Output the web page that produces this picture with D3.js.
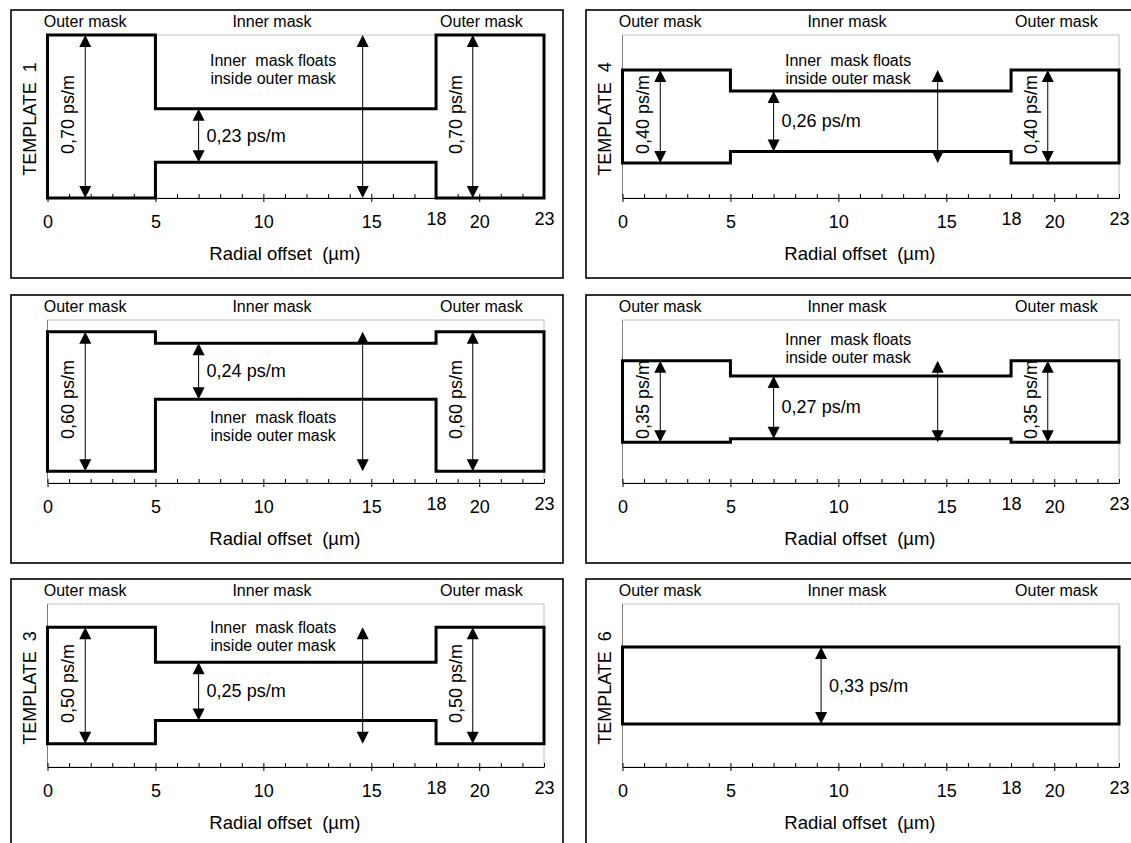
<!DOCTYPE html>
<html>
<head>
<meta charset="utf-8">
<script src="https://cdn.jsdelivr.net/npm/d3@7"></script>
<style>
  body { margin: 0; background: #fff; }
  svg { display: block; }
  text { font-family: "Liberation Sans", Arial, sans-serif; fill: #000; }
</style>
</head>
<body>
<svg id="chart"></svg>
<script>
// panels: left column rows 1-3, then right column rows 1-3
const templateLabels = ["TEMPLATE  1", "", "TEMPLATE  3", "TEMPLATE  4", "", "TEMPLATE  6"];
const outerWidth = [0.70, 0.60, 0.50, 0.40, 0.35, 0.33];
const outerLow   = [0.00, 0.05, 0.10, 0.15, 0.175, 0.185];
const innerWidth = [0.23, 0.24, 0.25, 0.26, 0.27, null];
const innerLow   = [0.153, 0.36, 0.20, 0.20, 0.19, null];
const noteY      = [0.567, 0.259, 0.575, 0.567, 0.593, null];

const maskEdges = [0, 5, 18, 23];
const zoneNames = ["Outer mask", "Inner mask", "Outer mask"];
const zoneX = [1.74, 10.4, 20.1];
const tickLabels = [0, 5, 10, 15, 18, 20, 23];
const majorTicks = [0, 5, 10, 15, 20];
const arrowOuterL = 1.75, arrowInner = 7.0, arrowFloat = 14.6, arrowOuterR = 19.7;
const arrowSingle = 9.2;
const noteLines = ["Inner  mask floats", "inside outer mask"];

const W = 1131, H = 843;
const panelW = 552, panelH = 268;
const colX = [11, 586], rowY = [10, 295, 579];

const svg = d3.select('#chart').attr('width', W).attr('height', H);
const fmt = v => d3.format('.2f')(v).replace('.', ',') + ' ps/m';

function arrow(g, px, y1, y2) {
  // y1 bottom (larger), y2 top
  g.append('line').attr('x1', px).attr('x2', px).attr('y1', y1 - 6).attr('y2', y2 + 6)
    .attr('stroke', '#000').attr('stroke-width', 1);
  g.append('path').attr('d', `M${px},${y2}L${px - 6},${y2 + 12}L${px + 6},${y2 + 12}Z`).attr('fill', '#000');
  g.append('path').attr('d', `M${px},${y1}L${px - 6},${y1 - 12}L${px + 6},${y1 - 12}Z`).attr('fill', '#000');
}

outerWidth.forEach((ow, i) => {
  const fx = colX[Math.floor(i / 3)], fy = rowY[i % 3];
  const g = svg.append('g').attr('transform', `translate(${fx},${fy})`);

  g.append('rect').attr('x', 0).attr('y', 0).attr('width', panelW).attr('height', panelH)
    .attr('fill', '#fff').attr('stroke', '#000').attr('stroke-width', 1.6);

  const x = d3.scaleLinear().domain([0, 23]).range([36.5, 533]);
  const y = d3.scaleLinear().domain([0, 0.70]).range([188, 25]);

  // plot area border
  g.append('rect').attr('x', x(0)).attr('y', y(0.70)).attr('width', x(23) - x(0)).attr('height', y(0) - y(0.70))
    .attr('fill', 'none').attr('stroke', '#c0c0c0').attr('stroke-width', 1);
  g.append('line').attr('x1', x(0)).attr('x2', x(0)).attr('y1', y(0.70)).attr('y2', y(0))
    .attr('stroke', '#808080');

  // x axis: minor ticks up, major ticks down, labels
  const axUp = g.append('g').attr('transform', `translate(0,${y(0)})`)
    .call(d3.axisTop(x).tickValues(d3.range(0, 24)).tickSizeInner(4).tickSizeOuter(0).tickFormat(''));
  axUp.select('.domain').attr('stroke', '#000');
  const axDown = g.append('g').attr('transform', `translate(0,${y(0)})`)
    .call(d3.axisBottom(x).tickValues(majorTicks).tickSize(4).tickFormat(''));
  axDown.select('.domain').remove();
  const axLab = g.append('g').attr('transform', `translate(0,${y(0)})`)
    .call(d3.axisBottom(x).tickValues(tickLabels).tickSize(0).tickPadding(17));
  axLab.select('.domain').remove();
  axLab.selectAll('text').attr('font-size', 18).attr('font-family', '"Liberation Sans", Arial, sans-serif')
    .attr('fill', '#000')
    .attr('transform', d => (d === 18 || d === 23) ? 'translate(0,-3)' : null);

  // mask outline
  const oLo = outerLow[i], oHi = outerLow[i] + ow;
  const iLo = innerLow[i] !== null ? innerLow[i] : oLo;
  const iHi = innerWidth[i] !== null ? innerLow[i] + innerWidth[i] : oHi;
  const pts = [
    [maskEdges[0], oLo], [maskEdges[0], oHi], [maskEdges[1], oHi], [maskEdges[1], iHi],
    [maskEdges[2], iHi], [maskEdges[2], oHi], [maskEdges[3], oHi], [maskEdges[3], oLo],
    [maskEdges[2], oLo], [maskEdges[2], iLo], [maskEdges[1], iLo], [maskEdges[1], oLo]
  ];
  g.append('path').attr('d', d3.line().x(d => x(d[0])).y(d => y(d[1]))(pts) + 'Z')
    .attr('fill', 'none').attr('stroke', '#000').attr('stroke-width', 3).attr('stroke-linejoin', 'miter');

  // zone labels
  g.selectAll('text.zone').data(zoneNames).join('text').attr('class', 'zone')
    .attr('x', (d, k) => x(zoneX[k])).attr('y', 17).attr('text-anchor', 'middle')
    .attr('font-size', 16).text(d => d);

  // axis title
  g.append('text').attr('x', x(11)).attr('y', 250).attr('text-anchor', 'middle')
    .attr('font-size', 18.5).style('white-space', 'pre').text('Radial offset  (µm)');

  // template label
  if (templateLabels[i]) {
    g.append('text').attr('transform', `translate(${x(0) - 18},${(y(0) + y(0.70)) / 2 + 2.5}) rotate(-90)`)
      .attr('text-anchor', 'middle').attr('dominant-baseline', 'central')
      .attr('font-size', 18).style('white-space', 'pre').text(templateLabels[i]);
  }

  if (innerWidth[i] === null) {
    arrow(g, x(arrowSingle), y(oLo), y(oHi));
    g.append('text').attr('x', x(arrowSingle) + 8).attr('y', (y(oLo) + y(oHi)) / 2)
      .attr('dominant-baseline', 'central').attr('font-size', 18).text(fmt(ow));
    return;
  }

  // outer arrows with rotated labels
  [arrowOuterL, arrowOuterR].forEach(ax => {
    arrow(g, x(ax), y(oLo), y(oHi));
    g.append('text').attr('transform', `translate(${x(ax) - 17},${(y(oLo) + y(oHi)) / 2 - 2}) rotate(-90)`)
      .attr('text-anchor', 'middle').attr('dominant-baseline', 'central')
      .attr('font-size', 18).text(fmt(ow));
  });

  // inner arrow
  arrow(g, x(arrowInner), y(iLo), y(iHi));
  g.append('text').attr('x', x(arrowInner) + 8).attr('y', (y(iLo) + y(iHi)) / 2)
    .attr('dominant-baseline', 'central').attr('font-size', 18).text(fmt(innerWidth[i]));

  // float arrow
  arrow(g, x(arrowFloat), y(oLo), y(oHi));

  // note
  g.selectAll('text.note').data(noteLines).join('text').attr('class', 'note')
    .attr('x', x(10.45)).attr('y', (d, k) => y(noteY[i]) + k * 18).attr('text-anchor', 'middle')
    .attr('font-size', 16).style('white-space', 'pre').text(d => d);
});
</script>
</body>
</html>
